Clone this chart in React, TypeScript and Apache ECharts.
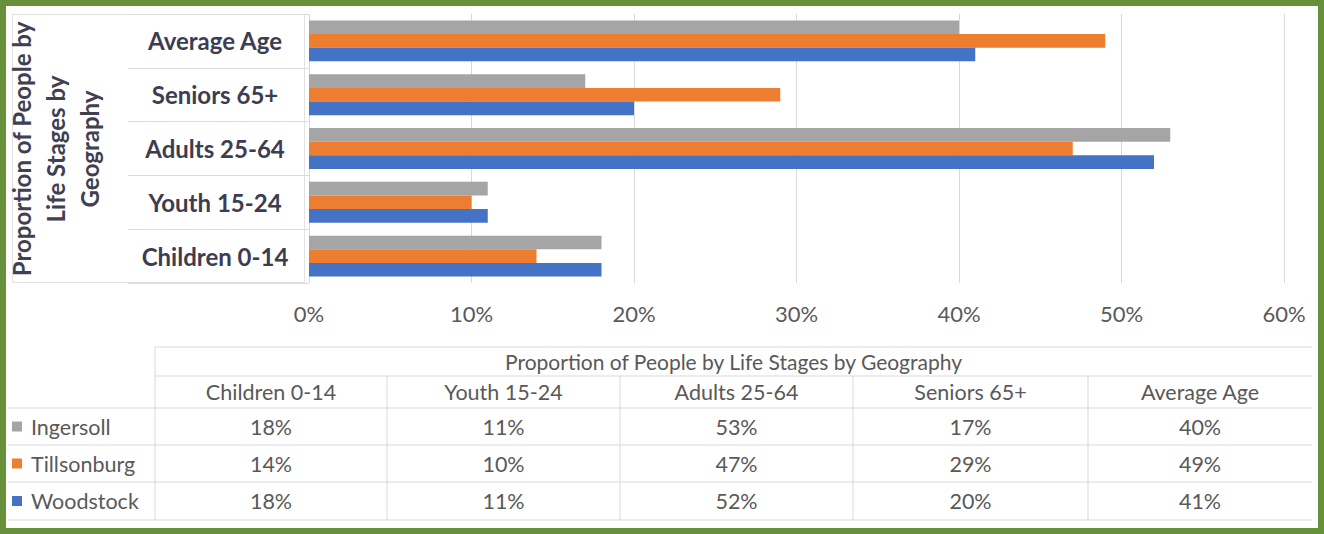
import React, { useEffect, useRef } from "react";
import * as echarts from "echarts";

const categories = ["Children 0-14", "Youth 15-24", "Adults 25-64", "Seniors 65+", "Average Age"];
const seriesNames = ["Ingersoll", "Tillsonburg", "Woodstock"];
const ingersoll = [18, 11, 53, 17, 40];
const tillsonburg = [14, 10, 47, 29, 49];
const woodstock = [18, 11, 52, 20, 41];
const seriesColors = ["#a5a5a5", "#ed7d31", "#4472c4"];
const xTicks = { min: 0, max: 60, interval: 10 };
const axisTitle = "Proportion of People by\nLife Stages by\nGeography";
const tableTitle = "Proportion of People by Life Stages by Geography";

const FONT = "Lato, 'Open Sans', sans-serif";

export default function App() {
  const ref = useRef<HTMLDivElement>(null);
  useEffect(() => {
    if (!ref.current) return;
    const chart = echarts.init(ref.current, undefined, { renderer: "svg" });
    const values = [ingersoll, tillsonburg, woodstock];

    // table layout
    const colEdges = [155, 387, 620, 853, 1088, 1312];
    const rowEdges = [347, 376, 408, 445, 482, 520];
    const lineColor = "#d9d9d9";
    const textColor = "#595959";
    const graphics: any[] = [];
    rowEdges.forEach((y, i) => {
      graphics.push({
        type: "line",
        shape: { x1: i >= 2 ? 8 : colEdges[0], y1: y, x2: colEdges[colEdges.length - 1], y2: y },
        style: { stroke: lineColor, lineWidth: 1 },
        silent: true,
      });
    });
    graphics.push({
      type: "line",
      shape: { x1: colEdges[0], y1: rowEdges[0], x2: colEdges[0], y2: rowEdges[5] },
      style: { stroke: lineColor, lineWidth: 1 },
    });
    colEdges.slice(1, colEdges.length - 1).forEach((x) => {
      graphics.push({
        type: "line",
        shape: { x1: x, y1: rowEdges[1], x2: x, y2: rowEdges[5] },
        style: { stroke: lineColor, lineWidth: 1 },
      });
    });
    const rowCenter = (i: number) => (rowEdges[i] + rowEdges[i + 1]) / 2;
    graphics.push({
      type: "text",
      x: (colEdges[0] + colEdges[5]) / 2,
      y: rowCenter(0),
      style: { text: tableTitle, font: `21px ${FONT}`, fill: textColor, align: "center", verticalAlign: "middle" },
    });
    categories.forEach((c, j) => {
      const cx = (colEdges[j] + colEdges[j + 1]) / 2;
      graphics.push({
        type: "text",
        x: cx,
        y: rowCenter(1),
        style: { text: c, font: `21.5px ${FONT}`, fill: textColor, align: "center", verticalAlign: "middle" },
      });
      values.forEach((arr, r) => {
        graphics.push({
          type: "text",
          x: cx,
          y: rowCenter(2 + r),
          style: { text: arr[j] + "%", font: `21.5px ${FONT}`, fill: textColor, align: "center", verticalAlign: "middle" },
        });
      });
    });
    seriesNames.forEach((n, r) => {
      const cy = rowCenter(2 + r);
      graphics.push({
        type: "rect",
        shape: { x: 12, y: cy - 5, width: 10, height: 10 },
        style: { fill: seriesColors[r] },
      });
      graphics.push({
        type: "text",
        x: 31,
        y: cy,
        style: { text: n, font: `21.5px ${FONT}`, fill: textColor, align: "left", verticalAlign: "middle" },
      });
    });
    graphics.push({
      type: "rect",
      shape: { x: 12.5, y: 14.5, width: 292, height: 268 },
      style: { fill: "none", stroke: "#e2e2e2", lineWidth: 1 },
    });
    graphics.push({
      type: "text",
      x: 55,
      y: 149,
      rotation: Math.PI / 2,
      style: {
        text: axisTitle,
        font: `bold 24px ${FONT}`,
        fill: "#404050",
        align: "center",
        verticalAlign: "middle",
        lineHeight: 34,
      },
    });
    graphics.push({
      type: "rect",
      shape: { x: 3, y: 3, width: 1318, height: 528 },
      style: { fill: "none", stroke: "#66913a", lineWidth: 6 },
      z: 100,
    });

    chart.setOption({
      animation: false,
      backgroundColor: "#ffffff",
      grid: { left: 309, right: 40, top: 14, bottom: 251, containLabel: false },
      xAxis: {
        type: "value",
        min: xTicks.min,
        max: xTicks.max,
        interval: xTicks.interval,
        axisLine: { show: false },
        axisTick: { show: false },
        splitLine: { show: true, lineStyle: { color: "#d9d9d9", width: 1 } },
        axisLabel: {
          formatter: "{value}%",
          color: textColor,
          fontSize: 22,
          fontFamily: FONT,
          margin: 19,
        },
      },
      yAxis: {
        type: "category",
        data: categories,
        axisLine: { show: false },
        axisTick: { show: true, length: 181, lineStyle: { color: "#dcdcdc", width: 1 } },
        axisLabel: {
          color: "#3d3d52",
          fontSize: 24,
          fontWeight: "bold",
          fontFamily: FONT,
          align: "center",
          margin: 94,
        },
      },
      series: seriesNames.map((n, i) => ({
        name: n,
        type: "bar",
        data: values[i],
        itemStyle: { color: seriesColors[i] },
        barGap: "0%",
        barCategoryGap: "24%",
      })),
      graphic: graphics,
    });
    return () => chart.dispose();
  }, []);
  return (
    <div
      ref={ref}
      style={{ position: "absolute", left: 0, top: 0, width: 1324, height: 534, background: "#fff" }}
    />
  );
}
